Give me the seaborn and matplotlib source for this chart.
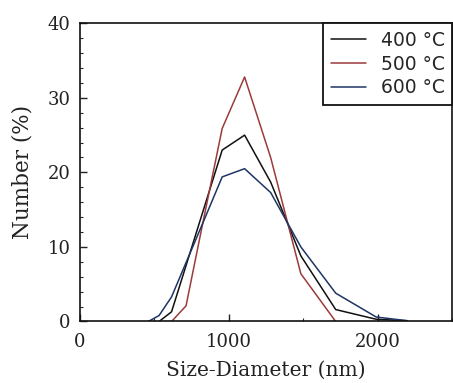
import numpy as np
import pandas as pd
import matplotlib
matplotlib.use("Agg")
import matplotlib.pyplot as plt
import seaborn as sns
from matplotlib.ticker import MultipleLocator

sizes = [458.7, 531.2, 615.1, 712.4, 825.0, 955.4, 1106, 1281, 1484, 1718, 1990, 2200]
n400 = [np.nan, 0, 1.3, 7.5, 14.7, 23.0, 25.0, 18.7, 8.8, 1.6, 0.3, 0.1]
n500 = [np.nan, np.nan, 0, 2.1, 13.2, 25.9, 32.8, 22.0, 6.4, 0, np.nan, np.nan]
n600 = [0, 0.8, 3.3, 7.9, 13.2, 19.4, 20.5, 17.3, 10.0, 3.8, 0.6, 0.1]
labels = ["400 °C", "500 °C", "600 °C"]
colors = ["#111111", "#9b3b3b", "#1f3566"]

sns.set_style("ticks")
plt.rcParams["font.family"] = ["DejaVu Serif"]

fig = plt.figure(figsize=(4.53, 3.83), dpi=100)
ax = fig.add_axes([0.1766, 0.1606, 0.8214, 0.7785])

for vals, lab, col in zip([n400, n500, n600], labels, colors):
    df = pd.DataFrame({"x": sizes, "y": vals}).dropna()
    sns.lineplot(data=df, x="x", y="y", ax=ax, color=col, lw=1.1,
                 label=lab, sort=False, estimator=None)

ax.set_xlim(0, 2500)
ax.set_ylim(0, 40)
ax.xaxis.set_major_locator(MultipleLocator(1000))
ax.xaxis.set_minor_locator(MultipleLocator(500))
ax.yaxis.set_major_locator(MultipleLocator(10))
ax.yaxis.set_minor_locator(MultipleLocator(2))
ax.tick_params(axis="both", which="both", top=False, right=False)
ax.tick_params(axis="both", which="major", direction="in", length=5, width=1,
               labelsize=13, colors="#222222")
ax.tick_params(axis="both", which="minor", direction="in", length=2.5, width=0.8)
ax.tick_params(axis="x", pad=8)
ax.tick_params(axis="y", pad=7)
for s in ax.spines.values():
    s.set_linewidth(1.2)
    s.set_color("#111111")

ax.set_xlabel("Size-Diameter (nm)", fontsize=14.5, labelpad=7, color="#222222")
ax.set_ylabel("Number (%)", fontsize=15.5, labelpad=10, color="#222222")

leg = ax.legend(loc="upper right", borderaxespad=0, frameon=True, fancybox=False,
                prop={"family": "DejaVu Sans", "size": 13.5}, handlelength=1.85,
                handletextpad=0.8, labelspacing=0.25, borderpad=0.4)
leg.get_frame().set_edgecolor("#111111")
leg.get_frame().set_linewidth(1.3)
leg.get_frame().set_alpha(1)

fig.savefig("out.png", dpi=100)
